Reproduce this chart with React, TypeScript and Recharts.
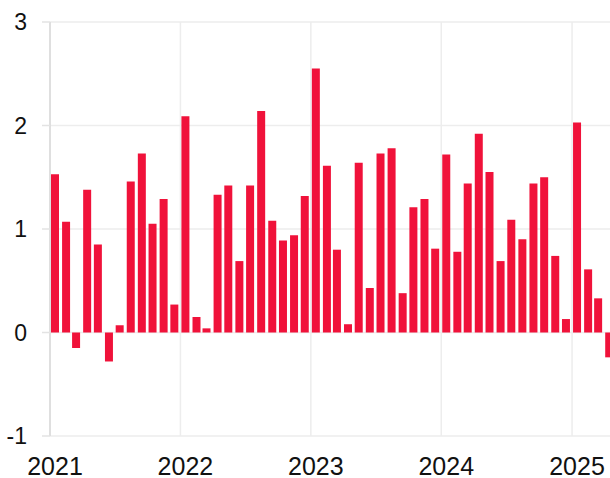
import React from 'react';
import { BarChart, Bar, XAxis, YAxis, CartesianGrid } from 'recharts';

// monthly values, Jan 2021 .. Apr 2025
const months: string[] = [
    '2021-01', '2021-02', '2021-03', '2021-04', '2021-05', '2021-06', '2021-07', '2021-08', '2021-09', '2021-10', '2021-11', '2021-12',
    '2022-01', '2022-02', '2022-03', '2022-04', '2022-05', '2022-06', '2022-07', '2022-08', '2022-09', '2022-10', '2022-11', '2022-12',
    '2023-01', '2023-02', '2023-03', '2023-04', '2023-05', '2023-06', '2023-07', '2023-08', '2023-09', '2023-10', '2023-11', '2023-12',
    '2024-01', '2024-02', '2024-03', '2024-04', '2024-05', '2024-06', '2024-07', '2024-08', '2024-09', '2024-10', '2024-11', '2024-12',
    '2025-01', '2025-02', '2025-03', '2025-04',
];

const values: number[] = [
    1.53, 1.07, -0.15, 1.38, 0.85, -0.28, 0.07, 1.46, 1.73, 1.05, 1.29, 0.27,
    2.09, 0.15, 0.04, 1.33, 1.42, 0.69, 1.42, 2.14, 1.08, 0.89, 0.94, 1.32,
    2.55, 1.61, 0.80, 0.08, 1.64, 0.43, 1.73, 1.78, 0.38, 1.21, 1.29, 0.81,
    1.72, 0.78, 1.44, 1.92, 1.55, 0.69, 1.09, 0.90, 1.44, 1.50, 0.74, 0.13,
    2.03, 0.61, 0.33, -0.24,
];

const yearTicks: string[] = ['2021', '2022', '2023', '2024', '2025'];
const yTicks: number[] = [-1, 0, 1, 2, 3];

const toTime = (m: string, day: number) => {
    const [y, mo] = m.split('-').map(Number);
    return Date.UTC(y, mo - 1, day);
};

const data = months.map((m, i) => ({ month: m, t: toTime(m, 15), value: values[i] }));
const xTicks = yearTicks.map((y) => Date.UTC(Number(y), 0, 1));
const xDomain = [Date.UTC(2021, 0, 1), Date.UTC(2025, 5, 1)];

const font = '"Liberation Sans", Arial, sans-serif';

const YearTick = (props: any) => {
    const { x, y, payload } = props;
    return (
        <text x={x + 5} y={y} dy="0.71em" textAnchor="middle" fontSize={25} fontFamily={font} fill="#111">
            {new Date(payload.value).getUTCFullYear()}
        </text>
    );
};

export default function App() {
    return (
        <div style={{ position: 'absolute', left: 0, top: 0, width: 610, height: 478, overflow: 'hidden', background: '#fff' }}>
            <BarChart width={626} height={478} data={data} margin={{ top: 22, right: 0, left: 0, bottom: 0 }}>
                <CartesianGrid stroke="#ededed" strokeWidth={1.5} />
                <XAxis
                    dataKey="t"
                    type="number"
                    domain={xDomain}
                    ticks={xTicks}
                    height={42}
                    axisLine={false}
                    tickLine={false}
                    tickSize={0}
                    tickMargin={21}
                    tick={<YearTick />}
                    interval={0}
                />
                <YAxis
                    type="number"
                    domain={[-1, 3]}
                    ticks={yTicks}
                    width={50}
                    tickSize={8}
                    tickMargin={15}
                    axisLine={{ stroke: '#d9d9d9', strokeWidth: 1.5 }}
                    tickLine={{ stroke: '#e3e3e3', strokeWidth: 1.5 }}
                    tick={{ fontSize: 23, fontFamily: font, fill: '#111' }}
                    interval={0}
                />
                <Bar dataKey="value" fill="#F0123A" barSize={8} isAnimationActive={false} />
            </BarChart>
        </div>
    );
}
